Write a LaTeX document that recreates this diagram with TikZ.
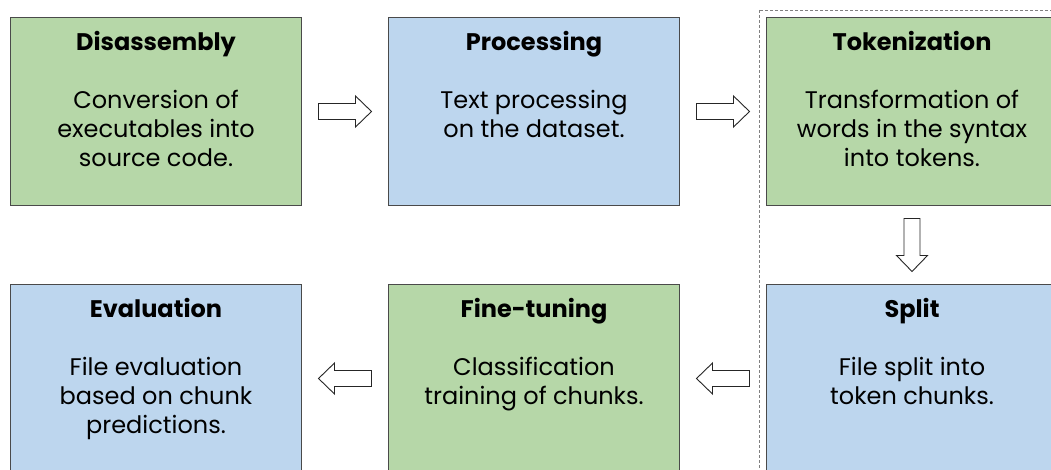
\documentclass[tikz,border=0pt]{standalone}
\usepackage{fontspec}
\setmainfont{Poppins}
\usetikzlibrary{calc}
\definecolor{boxgreen}{HTML}{B6D7A8}
\definecolor{boxblue}{HTML}{BDD6EE}
\definecolor{boxline}{HTML}{4A4A4A}
\tikzset{
  box/.style={draw=boxline, line width=1pt, anchor=north west, minimum width=291pt, minimum height=188pt, inner sep=0pt},
  gbox/.style={box, fill=boxgreen},
  bbox/.style={box, fill=boxblue},
  title/.style={anchor=base, inner sep=0pt, font=\fontsize{24}{29}\selectfont\bfseries},
  body/.style={anchor=north, inner sep=0pt, align=center, font=\fontsize{24}{29}\selectfont},
  arrowline/.style={draw=black!85, line width=0.9pt, fill=white, line join=miter},
  blockarrow/.pic={\path[arrowline] (-26.5,-8) -- (10.5,-8) -- (10.5,-15.5) -- (26.5,0) -- (10.5,15.5) -- (10.5,8) -- (-26.5,8) -- cycle;}
}
\begin{document}
\begin{tikzpicture}[x=1pt,y=-1pt]
\useasboundingbox (0,0) rectangle (1051,470);
\clip (0,0) rectangle (1051,470);
\fill[white] (0,0) rectangle (1051,470);
% top row
\node[gbox] (dis) at (10,17) {};
\node[bbox] (proc) at (388,17) {};
\node[gbox] (tok) at (766,17) {};
% bottom row
\node[bbox] (eval) at (10,284) {};
\node[gbox] (fine) at (388,284) {};
\node[bbox] (split) at (766,284) {};
% dashed group frame
\draw[gray, line width=0.6pt, dash pattern=on 3pt off 2pt] ($(tok.north west)+(-7,-7)$) rectangle ($(split.south east)+(20,20)$);
% texts
\node[title] (disT) at ($(dis.north)+(0,34)$) {Disassembly};
\node[body] (disB) at ($(dis.north)+(0,73)$) {Conversion of\\executables into\\source code.};
\node[title] (procT) at ($(proc.north)+(0,34)$) {Processing};
\node[body] (procB) at ($(proc.north)+(0,73)$) {Text processing\\on the dataset.};
\node[title] (tokT) at ($(tok.north)+(0,34)$) {Tokenization};
\node[body] (tokB) at ($(tok.north)+(0,73)$) {Transformation of\\words in the syntax\\into tokens.};
\node[title] (evalT) at ($(eval.north)+(0,33)$) {Evaluation};
\node[body] (evalB) at ($(eval.north)+(0,73)$) {File evaluation\\based on chunk\\predictions.};
\node[title] (fineT) at ($(fine.north)+(0,33)$) {Fine-tuning};
\node[body] (fineB) at ($(fine.north)+(0,73)$) {Classification\\training of chunks.};
\node[title] (splitT) at ($(split.north)+(0,33)$) {Split};
\node[body] (splitB) at ($(split.north)+(0,73)$) {File split into\\token chunks.};
% block arrows
\pic at ($(dis.east)!0.5!(proc.west)$) {blockarrow};
\pic at ($(proc.east)!0.5!(tok.west)$) {blockarrow};
\pic[rotate=-90] at ($(tok.south)!0.5!(split.north)$) {blockarrow};
\pic[rotate=180] at ($(split.west)!0.5!(fine.east)$) {blockarrow};
\pic[rotate=180] at ($(fine.west)!0.5!(eval.east)$) {blockarrow};
\end{tikzpicture}
\end{document}
